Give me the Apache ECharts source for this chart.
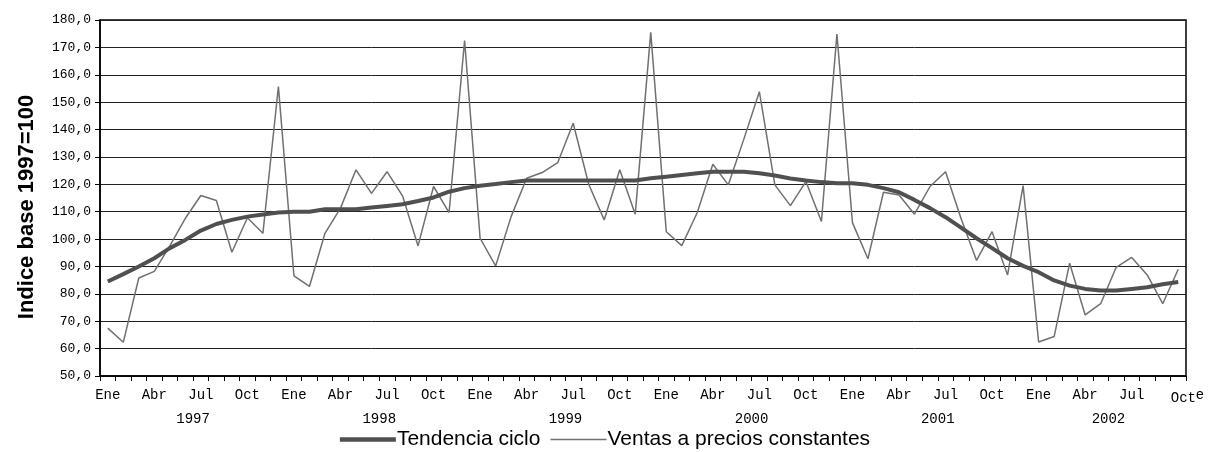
<!DOCTYPE html>
<html>
<head>
<meta charset="utf-8">
<script src="https://cdn.jsdelivr.net/npm/echarts@6/dist/echarts.min.js"></script>
<style>
html,body{margin:0;padding:0;background:#fff;}
#chart{width:1210px;height:452px;}
</style>
</head>
<body>
<div id="chart"></div>
<script>
const years = ['1997','1998','1999','2000','2001','2002'];
const monthsPerYear = [12,12,12,12,12,10];
const monthNames = ['Ene','Feb','Mar','Abr','May','Jun','Jul','Ago','Sep','Oct','Nov','Dic'];
const tendencia = [84.5,87.2,90.0,93.0,96.7,99.7,103.1,105.5,107.0,108.2,109.0,109.7,
  110.0,110.0,110.9,110.9,110.9,111.5,112.1,112.7,113.9,115.2,117.3,118.6,
  119.5,120.1,120.8,121.4,121.4,121.4,121.4,121.4,121.4,121.4,121.4,122.2,
  122.8,123.4,124.0,124.6,124.6,124.6,124.0,123.2,122.1,121.4,120.8,120.4,
  120.4,119.8,118.6,117.1,114.3,111.3,108.0,104.2,100.3,96.7,93.0,90.2,
  87.9,84.9,83.0,81.8,81.2,81.2,81.8,82.4,83.5,84.3];
const ventas = [67.5,62.3,85.8,88.2,97.5,107.6,115.9,114.1,95.2,107.8,102.1,155.7,
  86.6,82.7,102.1,111.3,125.3,116.7,124.6,115.8,97.5,119.2,109.7,172.5,
  100.3,90.2,108.2,122.2,124.3,127.9,142.3,120.0,107.0,125.3,109.1,175.5,
  102.7,97.6,109.7,127.3,119.8,136.5,153.8,119.8,112.2,121.0,106.4,174.9,
  106.0,92.8,117.1,116.1,109.1,119.2,124.6,107.5,92.2,102.7,86.9,119.5,
  62.4,64.4,91.2,72.3,76.4,89.7,93.3,86.9,76.4,89.0];
const seriesNames = ['Tendencia ciclo','Ventas a precios constantes'];
const yAxisName = 'Indice base 1997=100';

// category list: one per month
const categories = [];
years.forEach((y, k) => {
  for (let m = 0; m < monthsPerYear[k]; m++) categories.push(monthNames[m] + ' ' + y);
});
// year label centres in month units
const yearCenters = [];
let acc = 0;
monthsPerYear.forEach(n => { yearCenters.push(acc + n / 2); acc += n; });

const mono = 'Liberation Mono';
const chart = echarts.init(document.getElementById('chart'));
chart.setOption({
  animation: false,
  backgroundColor: '#fff',
  grid: {left: 100, right: 24, top: 20, bottom: 76, show: true, borderColor: '#000', borderWidth: 1.5, backgroundColor: 'transparent'},
  legend: {
    bottom: -3, left: 'center', itemWidth: 56, itemHeight: 14, itemGap: 10,
    textStyle: {fontFamily: 'Liberation Sans', fontSize: 21, color: '#000', padding: [0,0,0,-4]},
    data: [
      {name: seriesNames[0], icon: 'path://M0,0H100V8H0Z'},
      {name: seriesNames[1], icon: 'path://M0,0H100V2.6H0Z'}
    ]
  },
  xAxis: [{
    type: 'category', data: categories, boundaryGap: true,
    axisLine: {lineStyle: {color: '#000', width: 1.5}},
    axisTick: {show: true, interval: 0, length: 5, lineStyle: {color: '#000'}},
    axisLabel: {
      interval: 2, margin: 12, fontFamily: mono, fontSize: 14, color: '#000',
      formatter: (v, i) => {
        const m = v.split(' ')[0];
        return i === categories.length - 1 ? '{m|' + m + '}{sup|e}' : m;
      },
      rich: {
        m: {fontFamily: mono, fontSize: 14, color: '#000', padding: [0,0,0,18]},
        sup: {fontFamily: 'Liberation Sans', fontSize: 14, color: '#000', padding: [0,0,6,0]}
      }
    },
    splitLine: {show: false}
  }, {
    type: 'value', min: 0, max: categories.length, position: 'bottom',
    axisLine: {show: false}, axisTick: {show: false}, splitLine: {show: false},
    axisLabel: {
      show: true, customValues: yearCenters, margin: 36,
      fontFamily: mono, fontSize: 14, color: '#000',
      formatter: v => years[yearCenters.indexOf(v)] || ''
    }
  }],
  yAxis: {
    type: 'value', min: 50, max: 180, interval: 10,
    name: yAxisName, nameLocation: 'middle', nameGap: 62, nameRotate: 90,
    nameTextStyle: {fontFamily: 'Liberation Sans', fontSize: 22, fontWeight: 'bold', color: '#000', padding: [0,18,0,0]},
    axisLine: {show: true, lineStyle: {color: '#000', width: 1.5}},
    axisTick: {show: true, length: 5, lineStyle: {color: '#000'}},
    axisLabel: {fontFamily: mono, fontSize: 13, color: '#000', margin: 9,
      formatter: v => v.toFixed(1).replace('.', ',')},
    splitLine: {show: true, lineStyle: {color: '#222', width: 1}}
  },
  series: [{
    name: seriesNames[0], type: 'line', data: tendencia, xAxisIndex: 0,
    symbol: 'none', lineStyle: {color: '#505050', width: 4}, itemStyle: {color: '#505050'}, z: 3
  }, {
    name: seriesNames[1], type: 'line', data: ventas, xAxisIndex: 0,
    symbol: 'none', lineStyle: {color: '#707070', width: 1.5}, itemStyle: {color: '#707070'}, z: 2
  }]
});
</script>
</body>
</html>
